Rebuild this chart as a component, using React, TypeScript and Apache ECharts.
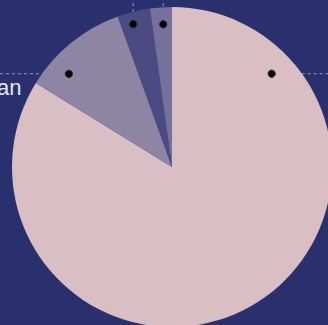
import React, { useEffect, useRef } from 'react';
import * as echarts from 'echarts';

// ---- data ----
const categories = ['United States', 'Japan', 'China', 'Korea'];
const values = [83.8, 10.7, 3.3, 2.2];
const shownLabels = [false, true, false, false];

// ---- styles / layout ----
const sliceColors = ['#d9bec3', '#8e85a5', '#4b4a83', '#75709c'];
const BG = '#2a306e';
const CX = 172;
const CY = 167;
const R = 160;
// label anchor (dot) per slice: angle clockwise from 12 o'clock (deg), distance from centre (px)
const anchorPolar: [number, number][] = [
  [46.9, 136.5],
  [312.1, 139],
  [344.8, 148],
  [356.5, 143],
];
const lineDirs = ['right', 'left', 'up', 'up'];

function anchorPoint(i: number): [number, number] {
  const [a, r] = anchorPolar[i];
  const rad = (a * Math.PI) / 180;
  return [CX + r * Math.sin(rad), CY - r * Math.cos(rad)];
}

export default function App() {
  const ref = useRef<HTMLDivElement>(null);
  useEffect(() => {
    if (!ref.current) return;
    const chart = echarts.init(ref.current, undefined, { renderer: 'svg' });
    const data = categories.map((name, i) => ({
      name,
      value: values[i],
      itemStyle: { color: sliceColors[i] },
    }));
    chart.setOption({
      animation: false,
      backgroundColor: BG,
      series: [
        {
          type: 'pie',
          center: [CX, CY],
          radius: R,
          startAngle: 90,
          clockwise: true,
          avoidLabelOverlap: false,
          data,
          itemStyle: { borderWidth: 0 },
          label: {
            show: true,
            position: 'outside',
            formatter: (p: any) => (shownLabels[p.dataIndex] ? p.name : ''),
            color: '#e6e6f2',
            fontSize: 22,
            fontFamily: 'Liberation Sans, Arial, sans-serif',
          },
          labelLine: {
            show: true,
            lineStyle: {
              color: 'rgba(222,212,228,0.65)',
              width: 1,
              type: [3, 3],
            },
          },
          labelLayout: (p: any) => {
            const i = p.dataIndex;
            const [ax, ay] = anchorPoint(i);
            const dir = lineDirs[i];
            if (dir === 'left') {
              const x = 21.5;
              return {
                x,
                y: ay + 3,
                align: 'right',
                verticalAlign: 'top',
                labelLinePoints: [
                  [ax, ay],
                  [x - p.labelRect.width - 2, ay],
                ],
              };
            }
            if (dir === 'right') {
              return {
                x: 420,
                y: ay + 3,
                align: 'left',
                verticalAlign: 'top',
                labelLinePoints: [
                  [ax, ay],
                  [420, ay],
                ],
              };
            }
            return {
              x: ax,
              y: -60,
              align: 'center',
              verticalAlign: 'bottom',
              labelLinePoints: [
                [ax, ay],
                [ax, -60],
              ],
            };
          },
        },
      ],
      graphic: categories.map((_, i) => {
        const [ax, ay] = anchorPoint(i);
        return {
          type: 'circle',
          z: 100,
          shape: { cx: ax, cy: ay, r: 3.6 },
          style: { fill: '#000000', stroke: '#1e1e2a', lineWidth: 1 },
        };
      }),
    });
    return () => chart.dispose();
  }, []);
  return (
    <div
      ref={ref}
      style={{ position: 'absolute', left: 0, top: 0, width: 328, height: 325 }}
    />
  );
}
